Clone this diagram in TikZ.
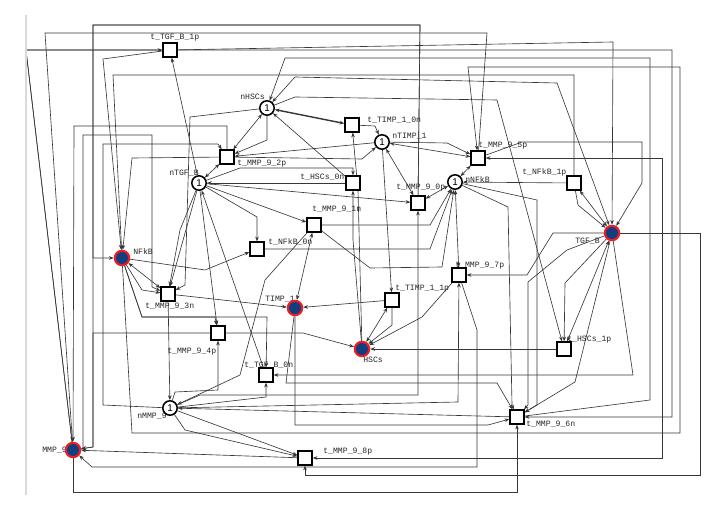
\documentclass[tikz,border=0pt]{standalone}
\usepackage{fontspec}
\usepackage{tikz}
\usetikzlibrary{arrows.meta,backgrounds}
\newfontfamily\netmono{Liberation Mono}
\newfontfamily\netsans{Liberation Sans}
\definecolor{tokenblue}{RGB}{18,62,128}
\definecolor{ringred}{RGB}{238,28,36}
\definecolor{arcgray}{RGB}{55,55,55}
\tikzset{
	trans/.style={draw=black, line width=1.5pt, fill=white, minimum size=0.33cm, inner sep=0pt},
	place/.style={circle, draw=black, line width=1.1pt, fill=white, minimum size=0.36cm, inner sep=0pt, font=\netsans\fontsize{7}{7}\selectfont},
	active/.style={circle, draw=ringred, line width=1.5pt, fill=tokenblue, minimum size=0.36cm, inner sep=0pt},
	lbl/.style={anchor=west, inner sep=0pt, font=\netmono\fontsize{5.8}{6}\selectfont, text=black!85},
	arc/.style={draw=arcgray, line width=0.45pt, -{Stealth[length=3.4pt,width=2.6pt]}},
	readarc/.style={arc, {Stealth[length=3.4pt,width=2.6pt]}-{Stealth[length=3.4pt,width=2.6pt]}},
}
\begin{document}
\begin{tikzpicture}[x=0.025cm,y=-0.025cm]
	\useasboundingbox (0,0) rectangle (714,510);
	\draw[black!15, line width=1pt] (26,15) -- (26,495);
	% labels
	\node[lbl] at (150,38) {t\_TGF\_B\_1p};
	\node[lbl] at (240,97) {nHSCs};
	\node[lbl] at (367,120) {t\_TIMP\_1\_0n};
	\node[lbl] at (392,136) {nTIMP\_1};
	\node[lbl] at (237,164) {t\_MMP\_9\_2p};
	\node[lbl] at (169,173) {nTGF\_B};
	\node[lbl] at (300,177) {t\_HSCs\_0n};
	\node[lbl] at (478,146) {t\_MMP\_9\_5p};
	\node[lbl] at (465,180) {nNFkB};
	\node[lbl] at (522,172) {t\_NFkB\_1p};
	\node[lbl] at (396,188) {t\_MMP\_9\_0p};
	\node[lbl] at (312,209) {t\_MMP\_9\_1n};
	\node[lbl] at (268,242) {t\_NFkB\_0n};
	\node[lbl] at (133,252) {NFkB};
	\node[lbl] at (145,306) {t\_MMP\_9\_3n};
	\node[lbl] at (265,299) {TIMP\_1};
	\node[lbl] at (167,352) {t\_MMP\_9\_4p};
	\node[lbl] at (244,365) {t\_TGF\_B\_0n};
	\node[lbl] at (137,416) {nMMP\_9};
	\node[lbl] at (42,450) {MMP\_9};
	\node[lbl] at (363,360) {HSCs};
	\node[lbl] at (455,266) {t\_MMP\_9\_7p};
	\node[lbl] at (395,289) {t\_TIMP\_1\_1p};
	\node[lbl] at (567,340) {t\_HSCs\_1p};
	\node[lbl] at (575,241) {TGF\_B};
	\node[lbl] at (526,424) {t\_MMP\_9\_6n};
	\node[lbl] at (323,452) {t\_MMP\_9\_8p};
	% places
	\node[place] (nHSCs) at (267,108) {1};
	\node[place] (nTIMP1) at (382,142) {1};
	\node[place] (nTGFB) at (199,183) {1};
	\node[place] (nNFkB) at (455,182) {1};
	\node[place] (nMMP9) at (170,408) {1};
	\node[active] (NFkB) at (122,258) {};
	\node[active] (TIMP1) at (295,308) {};
	\node[active] (HSCs) at (362,349) {};
	\node[active] (TGFB) at (612,233) {};
	\node[active] (MMP9) at (73,450) {};
	% transitions
	\node[trans] (tTGFB1p) at (170,50) {};
	\node[trans] (tTIMP10n) at (352,125) {};
	\node[trans] (tMMP92p) at (227,157) {};
	\node[trans] (tHSCs0n) at (353,183) {};
	\node[trans] (tMMP95p) at (478,158) {};
	\node[trans] (tNFkB1p) at (574,183) {};
	\node[trans] (tMMP90p) at (418,203) {};
	\node[trans] (tMMP91n) at (314,225) {};
	\node[trans] (tNFkB0n) at (257,249) {};
	\node[trans] (tMMP97p) at (459,275) {};
	\node[trans] (tTIMP11p) at (392,300) {};
	\node[trans] (tMMP93n) at (168,294) {};
	\node[trans] (tMMP94p) at (218,333) {};
	\node[trans] (tTGFB0n) at (266,375) {};
	\node[trans] (tHSCs1p) at (564,349) {};
	\node[trans] (tMMP96n) at (517,417) {};
	\node[trans] (tMMP98p) at (305,458) {};
	\begin{pgfonlayer}{background}
	% MMP_9
	\draw[arc] (tMMP90p) -- (420,25) -- (93,25) -- (93,447) -- (MMP9);
	\draw[arc] (tMMP90p) -- (420,25) -- (93,25) -- (93,258) -- (NFkB);
	\draw[arc] (tMMP95p) -- (487,33) -- (45,33) -- (MMP9);
	\draw[arc] (tMMP92p) -- (227,126) -- (74,126) -- (MMP9);
	\draw[arc] (tMMP94p) -- (93,333) -- (93,447) -- (MMP9);
	\draw[arc] (tMMP97p) -- (477,330) -- (477,467) -- (92,467) -- (MMP9);
	\draw[arc] (tMMP98p) -- (MMP9);
	\draw[arc] (MMP9) -- (26,50) -- (672,50) -- (672,417) -- (tMMP96n);
	\draw[arc] (MMP9) -- (26,50) -- (tTGFB1p);
	\draw[arc] (MMP9) -- (73,492) -- (517,492) -- (tMMP96n);
	\draw[arc] (MMP9) -- (83,449) -- (83,135) -- (152,135) -- (152,287) -- (tMMP93n);
	% nMMP_9
	\draw[arc] (tMMP93n) -- (nMMP9);
	\draw[arc] (tMMP96n) -- (nMMP9);
	\draw[arc] (tMMP91n) -- (265,280) -- (240,375) -- (nMMP9);
	\draw[arc] (nMMP9) -- (175,392) -- (218,390) -- (tMMP94p);
	\draw[arc] (nMMP9) -- (tMMP98p);
	\draw[arc] (nMMP9) -- (185,430) -- (tMMP98p);
	\draw[arc] (nMMP9) -- (458,402) -- (tMMP97p);
	\draw[arc] (nMMP9) -- (200,395) -- (418,395) -- (tMMP90p);
	\draw[arc] (nMMP9) -- (103,405) -- (103,144) -- (218,144) -- (tMMP92p);
	\draw[arc] (nMMP9) -- (266,397) -- (tTGFB0n);
	% TGF_B
	\draw[arc] (nTGFB) -- (tTGFB1p);
	\draw[arc] (tTGFB1p) -- (613,42) -- (TGFB);
	\draw[arc] (TGFB) -- (633,375) -- (tTGFB0n);
	\draw[arc] (tTGFB0n) -- (nTGFB);
	\draw[readarc] (TGFB) -- (tNFkB1p);
	\draw[arc] (tNFkB1p) -- (578,205) -- (TGFB);
	\draw[arc] (TGFB) -- (553,233) -- (527,275) -- (tMMP97p);
	\draw[readarc] (TGFB) -- (tHSCs1p);
	\draw[arc] (TGFB) -- (565,283) -- (tHSCs1p);
	\draw[arc] (TGFB) -- (567,250) -- (528,282) -- (528,405) -- (tMMP96n);
	\draw[arc] (TGFB) -- (575,382) -- (tMMP96n);
	\draw[arc] (TGFB) -- (662,233) -- (662,158) -- (tMMP95p);
	\draw[arc] (TGFB) -- (662,233) -- (662,458) -- (tMMP98p);
	\draw[arc] (TGFB) -- (700,233) -- (700,475) -- (305,475) -- (tMMP98p);
	\draw[arc] (tMMP95p) -- (522,142) -- (642,142) -- (642,183) -- (TGFB);
	% NFkB
	\draw[arc] (NFkB) -- (205,270) -- (tNFkB0n);
	\draw[arc] (tNFkB0n) -- (430,249) -- (nNFkB);
	\draw[arc] (tNFkB1p) -- (nNFkB);
	\draw[arc] (tNFkB1p) -- (574,75) -- (113,75) -- (NFkB);
	\draw[arc] (tTGFB1p) -- (103,59) -- (NFkB);
	\draw[arc] (tMMP92p) -- (132,158) -- (NFkB);
	\draw[readarc] (NFkB) -- (tMMP93n);
	\draw[arc] (NFkB) -- (142,290) -- (tMMP93n);
	\draw[arc] (NFkB) -- (132,433) -- (680,433) -- (680,67) -- (468,67) -- (tMMP95p);
	\draw[arc] (NFkB) -- (142,317) -- (215,317) -- (tMMP94p);
	\draw[arc] (NFkB) -- (142,317) -- (267,317) -- (tTGFB0n);
	% HSCs
	\draw[arc] (tHSCs1p) -- (HSCs);
	\draw[arc] (nHSCs) -- (295,97) -- (497,100) -- (tHSCs1p);
	\draw[arc] (HSCs) -- (353,240) -- (tHSCs0n);
	\draw[arc] (tHSCs0n) -- (nHSCs);
	\draw[arc] (HSCs) -- (358,190) -- (tTIMP10n);
	\draw[readarc] (HSCs) -- (tTIMP11p);
	\draw[arc] (tTIMP11p) -- (392,325) -- (HSCs);
	\draw[arc] (tMMP97p) -- (422,317) -- (HSCs);
	\draw[arc] (tMMP94p) -- (303,333) -- (HSCs);
	% TIMP_1
	\draw[arc] (tTIMP11p) -- (TIMP1);
	\draw[arc] (nTIMP1) -- (tTIMP11p);
	\draw[arc] (tTIMP10n) -- (375,126) -- (nTIMP1);
	\draw[readarc] (TIMP1) -- (tMMP91n);
	\draw[arc] (tMMP93n) -- (TIMP1);
	\draw[arc] (TIMP1) -- (286,383) -- (497,383) -- (tMMP96n);
	\draw[arc] (TIMP1) -- (295,425) -- (488,425) -- (tMMP96n);
	\draw[readarc] (nTIMP1) -- (tMMP95p);
	\draw[arc] (nTIMP1) -- (447,143) -- (tMMP95p);
	\draw[arc] (tMMP92p) -- (362,159) -- (nTIMP1);
	\draw[arc] (nTIMP1) -- (tMMP92p);
	\draw[readarc] (nTIMP1) -- (tMMP90p);
	% nHSCs
	\draw[readarc, line width=1pt] (nHSCs) -- (tTIMP10n);
	\draw[readarc] (nHSCs) -- (tMMP92p);
	\draw[arc] (nHSCs) -- (267,140) -- (tMMP92p);
	\draw[arc] (tMMP96n) -- (650,400) -- (650,58) -- (285,58) -- (nHSCs);
	\draw[readarc] (TGFB) -- (557,83) -- (295,77) -- (nHSCs);
	\draw[arc] (nHSCs) -- (190,117) -- (185,285) -- (tMMP93n);
	% nTGF_B
	\draw[arc] (nTGFB) -- (tMMP91n);
	\draw[arc] (nTGFB) -- (tMMP93n);
	\draw[arc] (nTGFB) -- (180,230) -- (tMMP93n);
	\draw[arc] (nTGFB) -- (257,217) -- (tNFkB0n);
	\draw[arc] (tHSCs0n) -- (nTGFB);
	\draw[arc] (nTGFB) -- (tMMP90p);
	\draw[readarc] (nTGFB) -- (tMMP92p);
	\draw[arc] (nTGFB) -- (tMMP94p);
	\draw[arc] (nTGFB) -- (240,168) -- (353,168) -- (tHSCs0n);
	% nNFkB
	\draw[readarc] (nNFkB) -- (tMMP95p);
	\draw[readarc] (nNFkB) -- (tMMP97p);
	\draw[readarc] (nNFkB) -- (tMMP90p);
	\draw[arc] (tMMP91n) -- (430,225) -- (nNFkB);
	\draw[arc] (tMMP91n) -- (370,268) -- (442,267) -- (nNFkB);
	\draw[arc] (nNFkB) -- (508,207) -- (512,405) -- (tMMP96n);
	\draw[arc] (nNFkB) -- (537,200) -- (537,405) -- (tMMP96n);
	\end{pgfonlayer}
\end{tikzpicture}
\end{document}
